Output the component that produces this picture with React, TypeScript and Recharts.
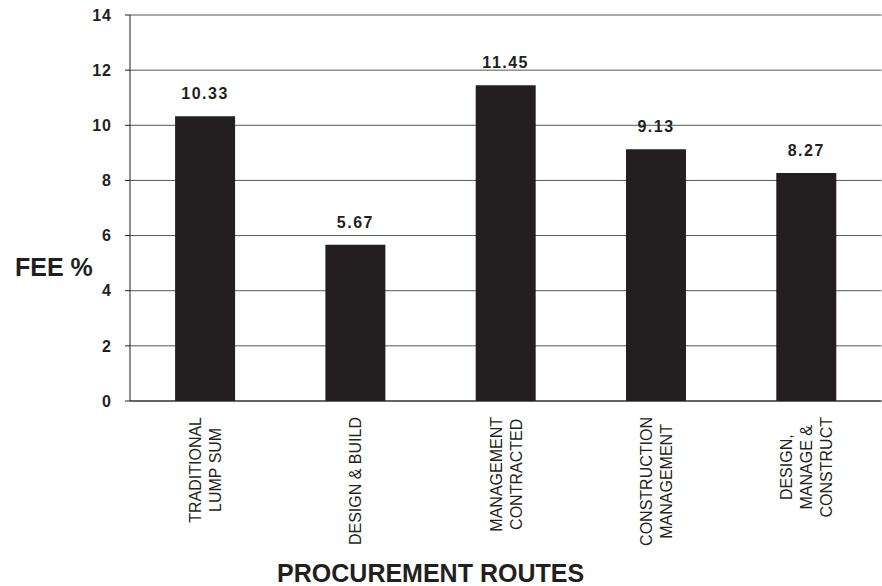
import React from 'react';
import {
  BarChart, Bar, XAxis, YAxis, CartesianGrid, LabelList, ReferenceLine
} from 'recharts';

// procurement routes (line breaks = wrapped axis label lines)
const routes = [
  'TRADITIONAL\nLUMP SUM',
  'DESIGN & BUILD',
  'MANAGEMENT\nCONTRACTED',
  'CONSTRUCTION\nMANAGEMENT',
  'DESIGN,\nMANAGE &\nCONSTRUCT',
];
const feePercent = [10.33, 5.67, 11.45, 9.13, 8.27];
const feeTicks = [0, 2, 4, 6, 8, 10, 12, 14];
const routeEdges = [0, 1, 2, 3, 4, 5];

const data = routes.map((route, i) => ({ route, fee: feePercent[i] }));

const INK = '#231f20';
const GRID = '#555555';
const FONT = '"Liberation Sans", Arial, sans-serif';

let measureCtx: CanvasRenderingContext2D | null = null;
const textWidth = (s: string, font: string) => {
  if (!measureCtx) measureCtx = document.createElement('canvas').getContext('2d');
  if (!measureCtx) return s.length * 9;
  measureCtx.font = font;
  return measureCtx.measureText(s).width;
};

// rotated, multi-line category label; lines centred on each other, block hangs from the axis
const RouteTick = (props: any) => {
  const { x, y, payload } = props;
  const lines = String(payload.value).split('\n');
  const longest = Math.max(...lines.map(l => textWidth(l, `16px ${FONT}`)));
  const top = y + 8;
  return (
    <g transform={`translate(${x},${top + longest / 2}) rotate(-90)`}>
      {lines.map((line, i) => (
        <text
          key={i}
          x={0}
          y={(i - (lines.length - 1) / 2) * 20}
          dy={6}
          textAnchor="middle"
          fontSize={16}
          fontFamily={FONT}
          fill={INK}
        >
          {line}
        </text>
      ))}
    </g>
  );
};

const FeeLabel = (props: any) => {
  const { x, y, width, value } = props;
  return (
    <text
      x={Number(x) + Number(width) / 2}
      y={Number(y) - 17}
      textAnchor="middle"
      fontSize={16}
      fontWeight={700}
      fontFamily={FONT}
      letterSpacing={1.5}
      fill={INK}
    >
      {Number(value).toFixed(2)}
    </text>
  );
};

const FeeAxisTitle = (props: any) => {
  const vb = props.viewBox || { x: 0, y: 15, width: 130, height: 386 };
  return (
    <text x={vb.x + 15} y={vb.y + vb.height * 0.676} fontSize={25} fontWeight={700} fontFamily={FONT} fill={INK}>
      FEE %
    </text>
  );
};

const RouteAxisTitle = (props: any) => {
  const vb = props.viewBox || { x: 130, y: 401, width: 751, height: 185 };
  return (
    <text
      x={vb.x + vb.width * 0.4}
      y={vb.y + vb.height - 4}
      textAnchor="middle"
      fontSize={25}
      fontWeight={700}
      fontFamily={FONT}
      fill={INK}
    >
      PROCUREMENT ROUTES
    </text>
  );
};

const App: React.FC = () => (
  <div style={{ position: 'absolute', left: 0, top: 0, width: 882, height: 586, background: '#fff' }}>
    <BarChart
      width={882}
      height={586}
      data={data}
      margin={{ top: 15, right: 0.5, bottom: 0, left: 0 }}
      barCategoryGap="30%"
    >
      <CartesianGrid horizontal vertical={false} stroke={GRID} />
      {/* tick marks sit on the category boundaries */}
      <XAxis
        xAxisId="edges"
        type="number"
        domain={[0, 5]}
        ticks={routeEdges}
        height={0}
        tick={false}
        tickSize={5}
        tickLine={{ stroke: INK }}
        axisLine={false}
      />
      <XAxis
        dataKey="route"
        height={185}
        interval={0}
        tickLine={false}
        axisLine={{ stroke: INK }}
        tick={<RouteTick />}
        label={(p: any) => <RouteAxisTitle {...p} />}
      />
      <YAxis
        width={130}
        domain={[0, 14]}
        ticks={feeTicks}
        interval={0}
        tickSize={5}
        tickMargin={13}
        axisLine={{ stroke: INK }}
        tickLine={{ stroke: INK }}
        tick={{ fill: INK, fontSize: 16, fontWeight: 700, fontFamily: FONT, letterSpacing: 1 }}
        label={(p: any) => <FeeAxisTitle {...p} />}
      />
      <ReferenceLine xAxisId="edges" x={5} stroke={GRID} />
      <Bar dataKey="fee" fill={INK} isAnimationActive={false}>
        <LabelList dataKey="fee" content={<FeeLabel />} />
      </Bar>
    </BarChart>
  </div>
);

export default App;
